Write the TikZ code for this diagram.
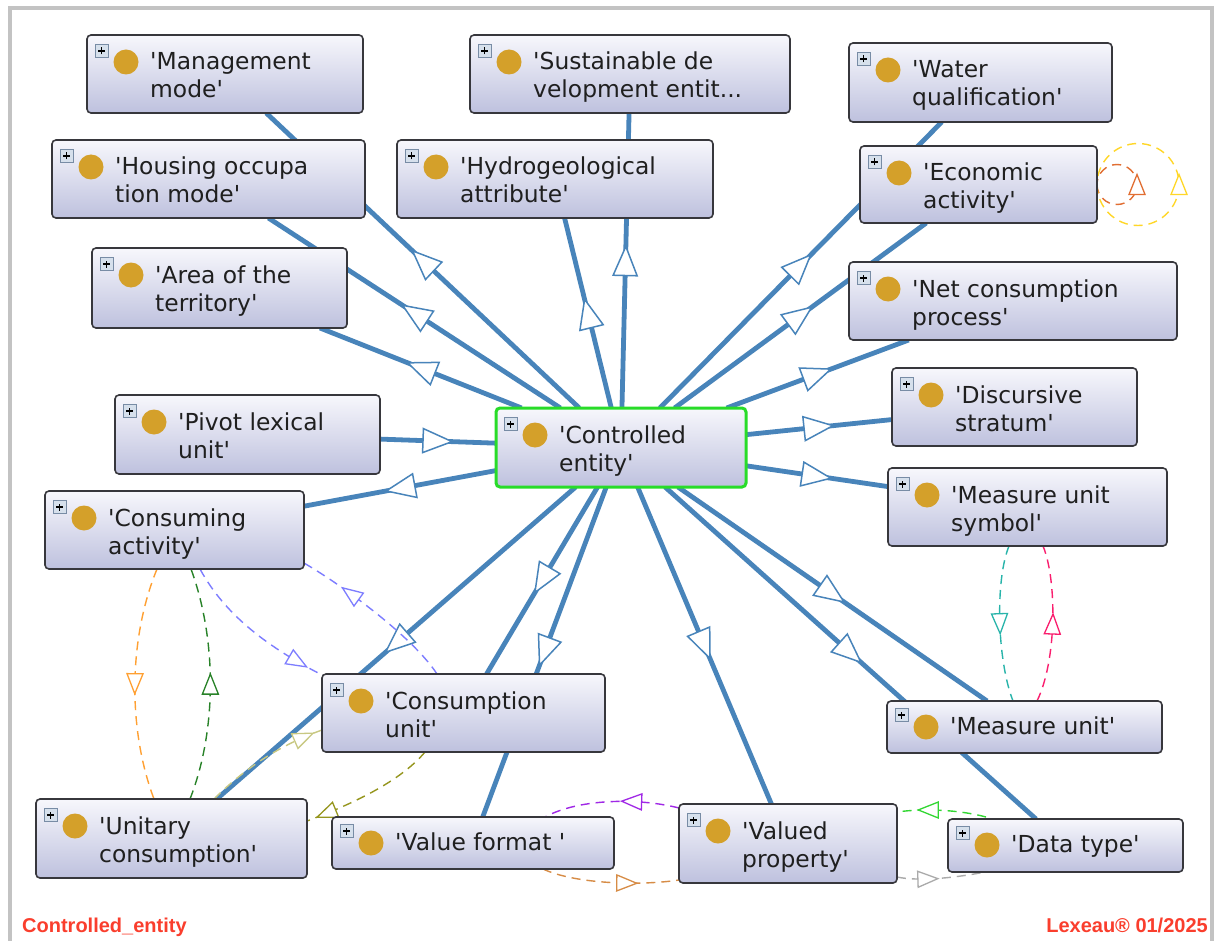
\documentclass[tikz,border=0pt]{standalone}
\usepackage{fontspec}
\newfontfamily\nodefont{DejaVu Sans}[Ligatures=TeXOff]
\newfontfamily\labfont{Liberation Sans}
\usetikzlibrary{decorations.markings,calc}
\pgfdeclarelayer{background}
\pgfdeclarelayer{canvas}
\pgfsetlayers{canvas,background,main}

\definecolor{edgeblue}{RGB}{72,132,186}
\definecolor{boxtop}{RGB}{247,247,252}
\definecolor{boxbot}{RGB}{190,193,222}
\definecolor{boxline}{RGB}{55,55,60}
\definecolor{gold}{RGB}{212,160,42}
\definecolor{plusfill}{RGB}{214,224,236}
\definecolor{plusline}{RGB}{120,140,165}
\definecolor{selgreen}{RGB}{40,220,40}
\definecolor{framegray}{RGB}{195,195,195}
\definecolor{labred}{RGB}{250,62,45}
\definecolor{cOrange}{RGB}{255,160,50}
\definecolor{cGreen}{RGB}{40,130,40}
\definecolor{cViolet}{RGB}{125,125,255}
\definecolor{cOliveLight}{RGB}{200,200,130}
\definecolor{cOlive}{RGB}{150,150,30}
\definecolor{cPurple}{RGB}{160,40,230}
\definecolor{cTan}{RGB}{215,140,70}
\definecolor{cLime}{RGB}{50,215,50}
\definecolor{cGray}{RGB}{170,170,170}
\definecolor{cTeal}{RGB}{40,180,170}
\definecolor{cPink}{RGB}{250,30,110}
\definecolor{cRust}{RGB}{225,110,50}
\definecolor{cYellow}{RGB}{255,215,40}

\tikzset{
  clsbox/.style={draw=boxline, line width=1.6pt, rounded corners=4pt, top color=boxtop, bottom color=boxbot, inner sep=0pt, outer sep=0pt, anchor=north west},
  plusicon/.style={draw=plusline, fill=plusfill, line width=0.8pt, minimum size=13pt, inner sep=0pt,
    path picture={\draw[black, line width=1.2pt]
      ([xshift=-3.5pt]path picture bounding box.center) -- ([xshift=3.5pt]path picture bounding box.center)
      ([yshift=-3.5pt]path picture bounding box.center) -- ([yshift=3.5pt]path picture bounding box.center);}},
  golddot/.style={circle, fill=gold, minimum size=25pt, inner sep=0pt},
  ctext/.style={font=\nodefont\fontsize{23.4}{28}\selectfont, text=black!88, anchor=base west, inner sep=0pt},
  isa/.style={color=edgeblue, line width=4.8pt, postaction={decorate},
    decoration={markings, mark=at position 0.5 with {\filldraw[fill=white, line width=1.5pt] (14,0) -- (-15,12) -- (-15,-12) -- cycle;}}},
  rel/.style={line width=1.4pt, dash pattern=on 9pt off 6pt, postaction={decorate},
    decoration={markings, mark=at position #1 with {\filldraw[fill=white, solid, line width=1.3pt] (10,0) -- (-10,8) -- (-10,-8) -- cycle;}}},
  lab/.style={font=\labfont\bfseries\fontsize{20}{24}\selectfont, text=labred, inner sep=0pt}
}

% two-line class box: name, x1, y1, x2, y2, line1, line2
\newcommand\clsTwo[7]{%
  \node[clsbox, minimum width={#4pt-#2pt}, minimum height={#5pt-#3pt}] (#1) at (#2,#3) {};
  \node[plusicon] (#1-plus) at (#2+14.5,#3+16) {};
  \node[golddot] (#1-dot) at (#2+39,#3+27) {};
  \node[ctext] (#1-a) at (#2+63,#3+35) {#6};
  \node[ctext] (#1-b) at (#2+63,#3+63) {#7};
}
% one-line class box: name, x1, y1, x2, y2, text
\newcommand\clsOne[6]{%
  \node[clsbox, minimum width={#4pt-#2pt}, minimum height={#5pt-#3pt}] (#1) at (#2,#3) {};
  \node[plusicon] (#1-plus) at (#2+14.5,#3+14) {};
  \node[golddot] (#1-dot) at (#2+39,#3+26) {};
  \node[ctext] (#1-a) at (#2+63,#3+33) {#6};
}

\begin{document}
\begin{tikzpicture}[x=1pt,y=-1pt]
\useasboundingbox (0,0) rectangle (1214,941);
\begin{pgfonlayer}{canvas}
\fill[white] (0,0) rectangle (1214,941);
\end{pgfonlayer}
\draw[framegray, line width=4pt] (10,945) -- (10,8) -- (1212,8) -- (1212,945);

% nodes
\clsTwo{mm}{87}{35}{363}{113}{'Management}{mode'}
\clsTwo{hom}{52}{140}{365}{218}{'Housing occupa}{tion mode'}
\clsTwo{aot}{92}{248}{347}{328}{'Area of the}{territory'}
\clsTwo{sde}{470}{35}{790}{113}{'Sustainable de}{velopment entit...}
\clsTwo{hyd}{397}{140}{713}{218}{'Hydrogeological}{attribute'}
\clsTwo{wq}{849}{43}{1112}{122}{'Water}{qualification'}
\clsTwo{eco}{860}{146}{1097}{223}{'Economic}{activity'}
\clsTwo{ncp}{849}{262}{1177}{340}{'Net consumption}{process'}
\clsTwo{ds}{892}{368}{1137}{446}{'Discursive}{stratum'}
\clsTwo{mus}{888}{468}{1167}{546}{'Measure unit}{symbol'}
\clsOne{mu}{887}{701}{1162}{753}{'Measure unit'}
\clsOne{dt}{948}{819}{1183}{872}{'Data type'}
\clsTwo{vp}{679}{804}{897}{883}{'Valued}{property'}
\clsOne{vf}{332}{817}{614}{869}{'Value format '}
\clsTwo{uc}{36}{799}{307}{878}{'Unitary}{consumption'}
\clsTwo{cu}{322}{674}{605}{752}{'Consumption}{unit'}
\clsTwo{ca}{45}{491}{304}{569}{'Consuming}{activity'}
\clsTwo{plu}{115}{395}{380}{474}{'Pivot lexical}{unit'}
\clsTwo{ce}{496}{408}{746}{487}{'Controlled}{entity'}
\draw[selgreen, line width=3pt, rounded corners=4pt] (ce.north west) rectangle (ce.south east);

% connectors
\begin{pgfonlayer}{background}
\foreach \t in {mm,hom,aot,sde,hyd,wq,eco,ncp,ds,mus,mu,dt,vp,vf,uc,cu,ca}{
  \draw[isa] (ce) -- (\t);
}
\draw[isa] (plu) -- (ce);

\draw[rel=0.5, color=cOrange] ($(ca.south west)+(112,0)$) .. controls (128,640) and (128,730) .. ($(uc.north west)+(118,0)$);
\draw[rel=0.5, color=cGreen] ($(uc.north west)+(154,0)$) .. controls (217,730) and (217,640) .. ($(ca.south west)+(146,0)$);
\draw[rel=0.8, color=cViolet] ($(ca.south west)+(155,0)$) .. controls (225,615) and (268,648) .. ($(cu.north west)+(6,4)$);
\draw[rel=0.68, color=cViolet] ($(cu.north west)+(115,0)$) .. controls (415,640) and (350,590) .. ($(ca.south east)+(0,-6)$);
\draw[rel=0.85, color=cOliveLight] ($(uc.north west)+(178,0)$) .. controls (245,768) and (280,745) .. ($(cu.north west)+(0,56)$);
\draw[rel=0.85, color=cOlive] ($(cu.south west)+(103,0)$) .. controls (400,782) and (350,805) .. ($(uc.north east)+(0,22)$);
\draw[rel=0.35, color=cPurple] ($(vp.north west)+(0,4)$) .. controls (640,798) and (580,798) .. ($(vf.north west)+(213,0)$);
\draw[rel=0.62, color=cTan] ($(vf.south west)+(211,0)$) .. controls (575,884) and (640,886) .. ($(vp.south west)+(0,-3)$);
\draw[rel=0.65, color=cLime] ($(dt.north west)+(38,-2)$) .. controls (960,810) and (925,808) .. ($(vp.north east)+(0,8)$);
\draw[rel=0.35, color=cGray] ($(vp.south east)+(0,-6)$) .. controls (920,882) and (960,877) .. ($(dt.south west)+(37,0)$);
\draw[rel=0.5, color=cTeal] ($(mus.south west)+(121,0)$) .. controls (995,580) and (997,660) .. ($(mu.north west)+(126,0)$);
\draw[rel=0.5, color=cPink] ($(mu.north west)+(150,0)$) .. controls (1057,660) and (1057,580) .. ($(mus.south west)+(155,0)$);
\draw[rel=0.5, color=cRust] (eco.east) arc[start angle=180, end angle=-180, radius=20];
\draw[rel=0.5, color=cYellow] (eco.east) arc[start angle=180, end angle=-180, radius=41];
\end{pgfonlayer}

% labels
\node[lab, anchor=base west] (lab-left) at (22,932) {Controlled\_entity};
\node[lab, anchor=base east] (lab-right) at (1208,932) {Lexeau® 01/2025};
\end{tikzpicture}
\end{document}
